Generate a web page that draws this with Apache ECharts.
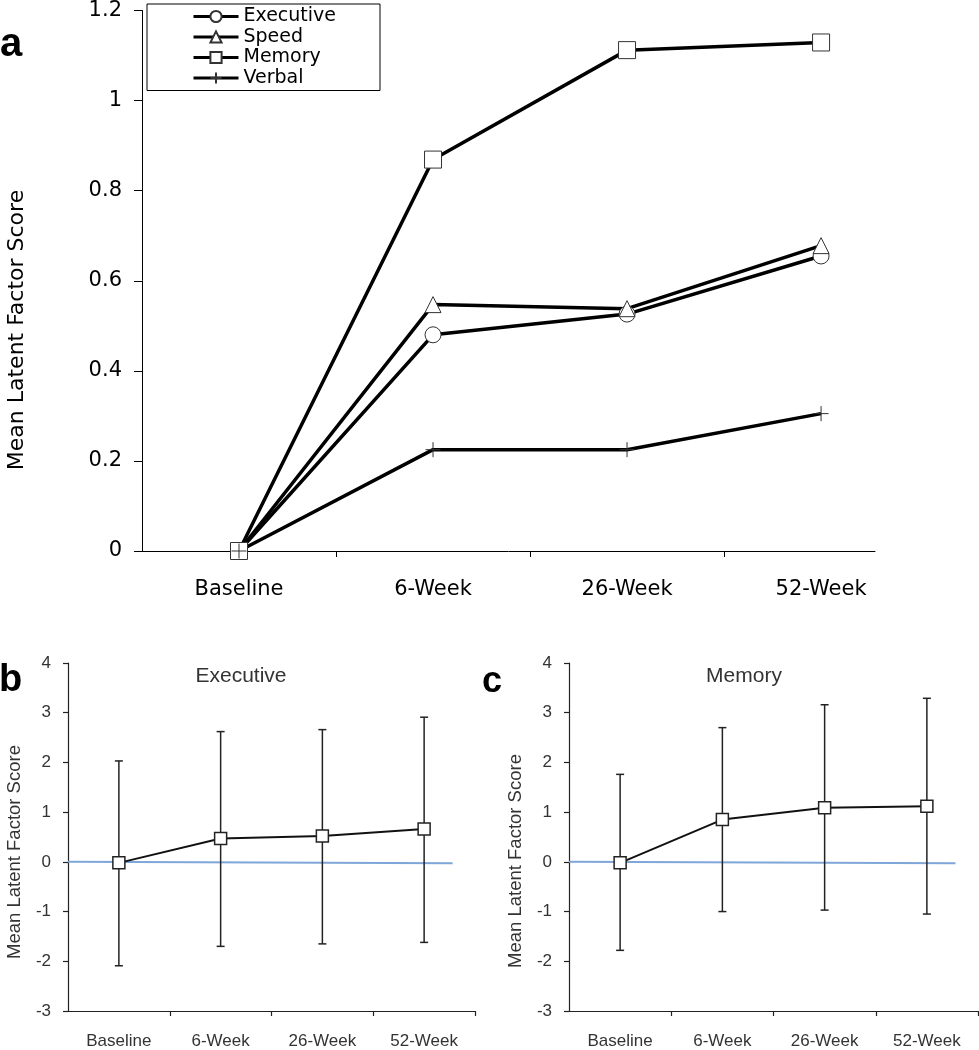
<!DOCTYPE html>
<html>
<head>
<meta charset="utf-8">
<script src="https://cdn.jsdelivr.net/npm/echarts@6/dist/echarts.min.js"></script>
<style>
html,body{margin:0;padding:0;background:#fff;}
#chart{width:979px;height:1050px;}
</style>
</head>
<body>
<div id="chart"></div>
<script>
// ---- data ----
const categories = ['Baseline', '6-Week', '26-Week', '52-Week'];
const categoryIndex = [0, 1, 2, 3];

// panel a: mean latent factor scores
const execMean   = [0, 0.48, 0.526, 0.655];
const speedMean  = [0, 0.547, 0.538, 0.678];
const memoryMean = [0, 0.869, 1.112, 1.129];
const verbalMean = [0, 0.225, 0.225, 0.305];

// panel b: executive with error bars
const execB      = [-0.02, 0.47, 0.52, 0.66];
const execBUpper = [2.03, 2.62, 2.66, 2.91];
const execBLower = [-2.09, -1.70, -1.65, -1.62];

// panel c: memory with error bars
const memC       = [-0.02, 0.85, 1.09, 1.12];
const memCUpper  = [1.76, 2.70, 3.16, 3.29];
const memCLower  = [-1.78, -1.00, -0.97, -1.05];

// reference line near zero (light blue) in panels b and c
const zeroLineX = [-0.5, 3.28];
const zeroLineY = [0, -0.03];

const topYTicks = [0, 0.2, 0.4, 0.6, 0.8, 1, 1.2];
const bottomYTicks = [-3, -2, -1, 0, 1, 2, 3, 4];
const yTitle = 'Mean Latent Factor Score';

// ---- helpers ----
const FONT = '"Liberation Sans", Arial, sans-serif';
const WIDE = '"DejaVu Sans", Verdana, sans-serif';
const pairs = (vals) => vals.map((v, i) => [categoryIndex[i], v]);
const errData = (lo, hi) => lo.map((l, i) => [categoryIndex[i], l, hi[i]]);

function errorBarSeries(name, xi, lo, hi) {
  return {
    name: name, type: 'custom', xAxisIndex: xi, yAxisIndex: xi, z: 2,
    data: errData(lo, hi),
    renderItem: function (params, api) {
      const x = api.value(0);
      const p1 = api.coord([x, api.value(1)]);
      const p2 = api.coord([x, api.value(2)]);
      const cap = 4;
      const st = {stroke: '#222', lineWidth: 1.5};
      return {
        type: 'group',
        children: [
          {type: 'line', shape: {x1: p1[0], y1: p1[1], x2: p2[0], y2: p2[1]}, style: st},
          {type: 'line', shape: {x1: p1[0] - cap, y1: p1[1], x2: p1[0] + cap, y2: p1[1]}, style: st},
          {type: 'line', shape: {x1: p2[0] - cap, y1: p2[1], x2: p2[0] + cap, y2: p2[1]}, style: st}
        ]
      };
    }
  };
}

function bottomXAxis(gi) {
  return {
    gridIndex: gi, type: 'value', min: -0.5, max: 3.5,
    axisLine: {show: true, onZero: false, lineStyle: {color: '#222', width: 1.2}},
    axisTick: {show: true, customValues: [0.5, 1.5, 2.5, 3.5], length: 5, lineStyle: {color: '#222', width: 1.2}},
    axisLabel: {customValues: categoryIndex, formatter: v => categories[Math.round(v)],
      fontSize: 17, color: '#333', fontFamily: FONT, margin: 22},
    splitLine: {show: false}
  };
}
function bottomYAxis(gi) {
  return {
    gridIndex: gi, type: 'value', min: bottomYTicks[0], max: bottomYTicks[bottomYTicks.length - 1], interval: 1,
    axisLine: {show: true, onZero: false, lineStyle: {color: '#222', width: 1.2}},
    axisTick: {show: true, length: 5, lineStyle: {color: '#222', width: 1.2}},
    axisLabel: {fontSize: 17, color: '#333', fontFamily: FONT, margin: 17},
    splitLine: {show: false}
  };
}

const chart = echarts.init(document.getElementById('chart'), null, {renderer: 'canvas'});

const topLine = (name, vals, symbol, size) => ({
  name: name, type: 'line', xAxisIndex: 0, yAxisIndex: 0,
  data: pairs(vals), symbol: symbol, symbolSize: size, showSymbol: true,
  color: '#000',
  lineStyle: {color: '#000', width: 3.5},
  itemStyle: {color: '#fff', borderColor: '#333', borderWidth: 1},
  z: 3
});

const option = {
  animation: false,
  backgroundColor: '#fff',
  textStyle: {fontFamily: FONT},
  grid: [
    {left: 142, top: 8, width: 733, height: 543},
    {left: 68, top: 663, width: 407, height: 353},
    {left: 569, top: 663, width: 409, height: 353}
  ],
  legend: {
    orient: 'vertical', left: 147, top: 4,
    data: ['Executive', 'Speed', 'Memory', 'Verbal'],
    itemWidth: 45, itemHeight: 14, itemGap: 1.5,
    padding: [3, 44, 3, 45],
    borderColor: '#000', borderWidth: 1,
    lineStyle: {width: 3, color: '#000'},
    textStyle: {fontSize: 19, color: '#000', fontFamily: WIDE}
  },
  xAxis: [
    {
      gridIndex: 0, type: 'value', min: -0.5, max: 3.278,
      axisLine: {show: true, onZero: false, lineStyle: {color: '#000', width: 1}},
      axisTick: {show: true, customValues: [0.5, 1.5, 2.5], length: 6, lineStyle: {color: '#000'}},
      axisLabel: {customValues: categoryIndex, formatter: v => categories[Math.round(v)],
        fontSize: 21, color: '#000', fontFamily: WIDE, margin: 28},
      splitLine: {show: false}
    },
    bottomXAxis(1),
    bottomXAxis(2)
  ],
  yAxis: [
    {
      gridIndex: 0, type: 'value', min: topYTicks[0], max: topYTicks[topYTicks.length - 1], interval: 0.2,
      axisLine: {show: true, onZero: false, lineStyle: {color: '#000', width: 1}},
      axisTick: {show: true, length: 8, lineStyle: {color: '#000'}},
      axisLabel: {fontSize: 21, color: '#000', fontFamily: WIDE, margin: 20},
      splitLine: {show: false}
    },
    bottomYAxis(1),
    bottomYAxis(2)
  ],
  graphic: [
    {type: 'text', x: 0, y: 45, style: {text: 'a', font: 'bold 40px ' + FONT, fill: '#000', verticalAlign: 'middle'}},
    {type: 'text', x: -1, y: 681, style: {text: 'b', font: 'bold 38px ' + FONT, fill: '#000', verticalAlign: 'middle'}},
    {type: 'text', x: 482, y: 682, style: {text: 'c', font: 'bold 36px ' + FONT, fill: '#000', verticalAlign: 'middle'}},
    {type: 'text', x: 241, y: 676, style: {text: 'Executive', font: '21px ' + FONT, fill: '#333', align: 'center', verticalAlign: 'middle'}},
    {type: 'text', x: 744, y: 676, style: {text: 'Memory', font: '21px ' + FONT, fill: '#333', align: 'center', verticalAlign: 'middle'}},
    {type: 'text', x: 17, y: 330, rotation: Math.PI / 2, style: {text: yTitle, font: '22px ' + WIDE, fill: '#000', align: 'center', verticalAlign: 'middle'}},
    {type: 'text', x: 15, y: 852, rotation: Math.PI / 2, style: {text: yTitle, font: '18.5px ' + FONT, fill: '#333', align: 'center', verticalAlign: 'middle'}},
    {type: 'text', x: 516, y: 861, rotation: Math.PI / 2, style: {text: yTitle, font: '18.5px ' + FONT, fill: '#333', align: 'center', verticalAlign: 'middle'}}
  ],
  series: [
    topLine('Executive', execMean, 'circle', 16),
    topLine('Speed', speedMean, 'triangle', 16),
    topLine('Memory', memoryMean, 'rect', 17),
    topLine('Verbal', verbalMean, 'path://M0,5L10,5M5,0L5,10', 15),

    {name: 'zeroB', type: 'line', xAxisIndex: 1, yAxisIndex: 1, symbol: 'none', z: 1,
      data: zeroLineX.map((x, i) => [x, zeroLineY[i]]), lineStyle: {color: '#7ea6d8', width: 2}},
    errorBarSeries('errB', 1, execBLower, execBUpper),
    {name: 'execB', type: 'line', xAxisIndex: 1, yAxisIndex: 1, data: pairs(execB),
      symbol: 'rect', symbolSize: 12, z: 3,
      lineStyle: {color: '#111', width: 2}, itemStyle: {color: '#fff', borderColor: '#222', borderWidth: 1.5}},

    {name: 'zeroC', type: 'line', xAxisIndex: 2, yAxisIndex: 2, symbol: 'none', z: 1,
      data: zeroLineX.map((x, i) => [x, zeroLineY[i]]), lineStyle: {color: '#7ea6d8', width: 2}},
    errorBarSeries('errC', 2, memCLower, memCUpper),
    {name: 'memC', type: 'line', xAxisIndex: 2, yAxisIndex: 2, data: pairs(memC),
      symbol: 'rect', symbolSize: 12, z: 3,
      lineStyle: {color: '#111', width: 2}, itemStyle: {color: '#fff', borderColor: '#222', borderWidth: 1.5}}
  ]
};
chart.setOption(option);
</script>
</body>
</html>
